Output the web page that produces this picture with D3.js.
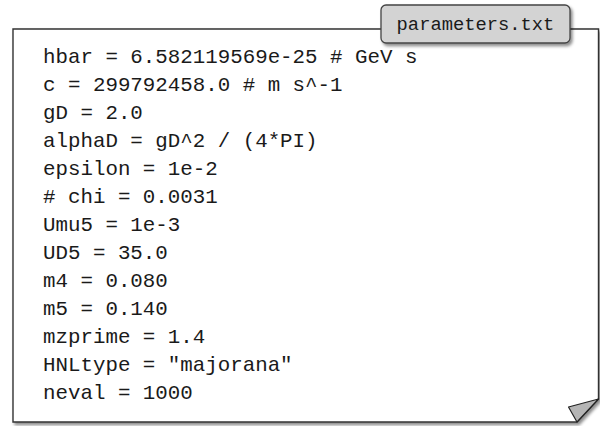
<!DOCTYPE html>
<html><head><meta charset="utf-8">
<script src="https://cdn.jsdelivr.net/npm/d3@7"></script>
<style>html,body{margin:0;padding:0;background:#fff;}</style>
</head><body>
<script>
const fileName = "parameters.txt";
const lines = [
  "hbar = 6.582119569e-25 # GeV s",
  "c = 299792458.0 # m s^-1",
  "gD = 2.0",
  "alphaD = gD^2 / (4*PI)",
  "epsilon = 1e-2",
  "# chi = 0.0031",
  "Umu5 = 1e-3",
  "UD5 = 35.0",
  "m4 = 0.080",
  "m5 = 0.140",
  "mzprime = 1.4",
  "HNLtype = \"majorana\"",
  "neval = 1000"
];

const W = 600, H = 426;
const svg = d3.select("body").append("svg").attr("width", W).attr("height", H);
const defs = svg.append("defs");
const f = defs.append("filter").attr("id","sh").attr("x","-10%").attr("y","-10%").attr("width","130%").attr("height","130%");
f.append("feDropShadow").attr("dx",2).attr("dy",2.5).attr("stdDeviation",1.5).attr("flood-color","#000").attr("flood-opacity",0.45);

const box = {x0: 13, y0: 29, x1: 598.5, y1: 422, fold: 23};
// main page
svg.append("path")
  .attr("d", `M${box.x0},${box.y0} H${box.x1} V${box.y1-box.fold} L${box.x1-box.fold+1.5},${box.y1} H${box.x0} Z`)
  .attr("fill","#fff").attr("stroke","#333").attr("stroke-width",1.4)
  .attr("filter","url(#sh)");
// folded corner
svg.append("path")
  .attr("d", `M${box.x1},${box.y1-box.fold} L${box.x1-30},${box.y1-15} L${box.x1-box.fold+1.5},${box.y1} Z`)
  .attr("fill","#b5b5b5").attr("stroke","#222").attr("stroke-width",1.2).attr("stroke-linejoin","round");

// text lines
const y = d3.scalePoint().domain(d3.range(lines.length)).range([63, 399]);
svg.append("g").selectAll("text").data(lines).join("text")
  .attr("x", 43).attr("y", (d,i)=>y(i))
  .attr("font-family","'Liberation Mono', monospace").attr("font-size", 20.8)
  .attr("fill","#1a1a1a").attr("xml:space","preserve")
  .style("white-space","pre")
  .text(d=>d);

// tab
const tab = {x0: 381, y0: 5, x1: 570, y1: 43};
svg.append("rect").attr("x",tab.x0).attr("y",tab.y0).attr("width",tab.x1-tab.x0).attr("height",tab.y1-tab.y0)
  .attr("rx",5).attr("fill","#d3d3d3").attr("stroke","#444").attr("stroke-width",1.3)
  .attr("filter","url(#sh)");
svg.append("text").attr("x",(tab.x0+tab.x1)/2).attr("y",30)
  .attr("text-anchor","middle").attr("font-family","'Liberation Mono', monospace").attr("font-size",18.8)
  .attr("fill","#1a1a1a").text(fileName);
</script>
</body></html>
